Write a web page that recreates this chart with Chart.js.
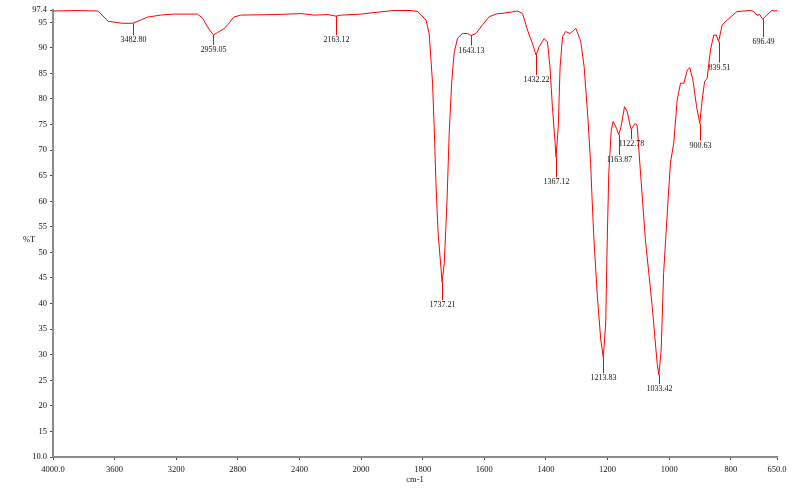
<!DOCTYPE html>
<html>
<head>
<meta charset="utf-8">
<title>IR spectrum</title>
<script src="https://cdn.jsdelivr.net/npm/chart.js@4.4.1/dist/chart.umd.min.js"></script>
<style>
  html, body { margin: 0; padding: 0; background: #fff; }
  canvas { display: block; }
</style>
</head>
<body>
<canvas id="irChart" width="800" height="501"></canvas>
<script>
// --- DATA SPEKTRUM ---
const wavenumber = [
  4000, 3850, 3707, 3642, 3596, 3550, 3482.8, 3433, 3388, 3303, 3218, 3062, 3029, 2997,
  2959.05, 2932, 2892, 2860, 2827, 2782, 2567, 2391, 2306, 2215, 2163.12, 2130, 2000,
  1958, 1893, 1838, 1816, 1789, 1779, 1768, 1762, 1757, 1750, 1741, 1737.21, 1730, 1721,
  1714, 1706, 1698, 1687, 1671, 1654, 1643.13, 1627, 1606, 1584, 1557, 1546, 1492, 1476,
  1460, 1444, 1432.22, 1422, 1406, 1395, 1387, 1379, 1371, 1367.12, 1360, 1354, 1346,
  1336, 1322, 1303, 1287, 1276, 1264, 1255, 1250, 1244, 1233, 1222, 1213.83, 1206, 1201,
  1196, 1188, 1182, 1171, 1163.87, 1156, 1145, 1136, 1125, 1122.78, 1111, 1104, 1093,
  1077, 1055, 1039, 1033.42, 1026, 1018, 1005, 996, 985, 974, 963, 952, 941, 933, 923,
  911, 900.63, 893, 885, 877, 866, 855, 847, 839.51, 828, 812, 780, 736, 726, 715, 706,
  696.49, 683, 667, 656, 650
];
const transmittance = [
  97.2, 97.3, 97.2, 95.2, 95.0, 94.8, 94.8, 95.4, 96.0, 96.4, 96.6, 96.6, 95.8, 94.1,
  92.5, 93.0, 93.7, 94.7, 96.0, 96.4, 96.5, 96.7, 96.4, 96.5, 96.2, 96.4, 96.6,
  96.9, 97.3, 97.3, 97.1, 95.4, 92.8, 83.1, 73.3, 63.5, 53.8, 47.2, 44.2, 47.9, 60.2,
  73.3, 83.1, 89.0, 91.9, 92.8, 92.8, 92.4, 92.8, 94.5, 96.1, 96.7, 96.7, 97.2, 96.7,
  93.5, 90.9, 88.6, 90.2, 91.8, 91.2, 86.3, 78.5, 72.0, 68.6, 74.6, 86.3, 92.2,
  93.2, 92.8, 93.8, 91.3, 86.3, 76.5, 67.4, 60.2, 52.4, 41.3, 32.9, 29.5, 36.2, 52.4,
  65.5, 73.9, 75.6, 74.3, 73.0, 74.6, 78.5, 77.5, 74.3, 74.1, 75.2, 74.9, 65.5,
  52.4, 39.4, 28.3, 26.0, 30.9, 45.9, 58.9, 67.4, 71.5, 79.8, 83.1, 83.1, 85.7, 86.1, 83.7,
  78.5, 75.2, 79.8, 83.4, 84.0, 89.6, 92.5, 92.5, 91.2, 94.5, 95.4, 97.1, 97.3, 97.1, 96.4, 96.5,
  95.6, 96.4, 97.3, 97.2, 97.3
];

// Puncak yang diberi label
const peakWavenumber = [3482.80, 2959.05, 2163.12, 1737.21, 1643.13, 1432.22, 1367.12,
  1213.83, 1163.87, 1122.78, 1033.42, 900.63, 839.51, 696.49];
const peakT = [94.8, 92.5, 96.2, 44.2, 92.4, 88.6, 68.6, 29.5, 73.0, 74.1, 26.0, 75.2, 91.2, 95.6];

// Tick sumbu
const xTicks = [4000, 3600, 3200, 2800, 2400, 2000, 1800, 1600, 1400, 1200, 1000, 800, 650];
const yTicks = [10, 15, 20, 25, 30, 35, 40, 45, 50, 55, 60, 65, 70, 75, 80, 85, 90, 95, 97.4];

// panjang garis penanda tiap puncak (px)
const peakStem = [12, 10, 19, 18, 10, 20, 20, 16, 20, 10, 9, 17, 21, 18];

const X_MAX = 4000, X_MIN = 650, X_BREAK = 2000;
const FONT = '"Liberation Serif", "Times New Roman", serif';

// --- SKALA X TERPISAH (di atas 2000 cm-1 dimampatkan 2x) ---
class SplitWavenumberScale extends Chart.LinearScale {
  _span() {
    return (X_MAX - X_BREAK) / 2 + (X_BREAK - X_MIN);
  }
  getPixelForValue(value) {
    const u = value >= X_BREAK ? (X_MAX - value) / 2 : (X_MAX - X_BREAK) / 2 + (X_BREAK - value);
    return this.left + this.width * u / this._span();
  }
  getValueForPixel(pixel) {
    const u = (pixel - this.left) / this.width * this._span();
    const half = (X_MAX - X_BREAK) / 2;
    return u <= half ? X_MAX - u * 2 : X_BREAK - (u - half);
  }
}
SplitWavenumberScale.id = 'splitWavenumber';
SplitWavenumberScale.defaults = Chart.LinearScale.defaults;
Chart.register(SplitWavenumberScale);

const spectrum = wavenumber.map((w, i) => ({ x: w, y: transmittance[i] }));

// Plugin: garis + label puncak, dan judul sumbu
const peakLabels = {
  id: 'peakLabels',
  afterDatasetsDraw(chart) {
    const ctx = chart.ctx;
    const xs = chart.scales.x, ys = chart.scales.y;
    ctx.save();
    ctx.font = '8px ' + FONT;
    ctx.textAlign = 'center';
    ctx.textBaseline = 'top';
    peakWavenumber.forEach((w, i) => {
      const px = Math.round(xs.getPixelForValue(w)) + 0.5;
      const py = ys.getPixelForValue(peakT[i]);
      ctx.strokeStyle = '#ff0000';
      ctx.lineWidth = 1;
      ctx.beginPath();
      ctx.moveTo(px, py);
      ctx.lineTo(px, py + peakStem[i]);
      ctx.stroke();
      ctx.fillStyle = '#111';
      ctx.fillText(w.toFixed(2), px, py + peakStem[i] + 1);
    });
    ctx.restore();
  },
  afterDraw(chart) {
    const ctx = chart.ctx;
    ctx.save();
    ctx.font = '8.5px ' + FONT;
    ctx.fillStyle = '#111';
    ctx.textBaseline = 'middle';
    ctx.textAlign = 'left';
    ctx.fillText('%T', 23, 240);
    ctx.textAlign = 'center';
    ctx.fillText('cm-1', (chart.chartArea.left + chart.chartArea.right) / 2, 480);
    ctx.restore();
  }
};

const ctxIR = document.getElementById('irChart').getContext('2d');
const irChart = new Chart(ctxIR, {
  type: 'line',
  data: {
    datasets: [{
      label: '%T',
      data: spectrum,
      borderColor: '#ff0000',
      borderWidth: 1,
      pointRadius: 0,
      tension: 0,
      fill: false
    }]
  },
  options: {
    responsive: false,
    animation: false,
    events: [],
    layout: { padding: { left: 0, right: 23, top: 10, bottom: 0 } },
    plugins: {
      legend: { display: false },
      tooltip: { enabled: false }
    },
    scales: {
      x: {
        type: 'splitWavenumber',
        min: X_MIN,
        max: X_MAX,
        afterBuildTicks: (scale) => { scale.ticks = xTicks.map(v => ({ value: v })); },
        afterFit: (scale) => { scale.height = 44; },
        border: { color: '#8c8c8c', width: 2 },
        grid: { drawOnChartArea: false, tickLength: 3, color: '#444' },
        ticks: {
          autoSkip: false,
          maxRotation: 0,
          padding: 5,
          color: '#111',
          font: { family: FONT, size: 8.5 },
          callback: (v) => (v === X_MAX || v === X_MIN) ? v.toFixed(1) : String(v)
        }
      },
      y: {
        min: 10,
        max: 97.4,
        afterBuildTicks: (scale) => { scale.ticks = yTicks.map(v => ({ value: v })); },
        afterFit: (scale) => { scale.width = 53; },
        border: { color: '#8c8c8c', width: 2 },
        grid: { drawOnChartArea: false, tickLength: 3, color: '#444' },
        ticks: {
          autoSkip: false,
          padding: 3,
          color: '#111',
          font: { family: FONT, size: 8.5 },
          callback: (v) => (v === 10 || v === 97.4) ? v.toFixed(1) : String(v)
        }
      }
    }
  },
  plugins: [peakLabels]
});
</script>
</body>
</html>
